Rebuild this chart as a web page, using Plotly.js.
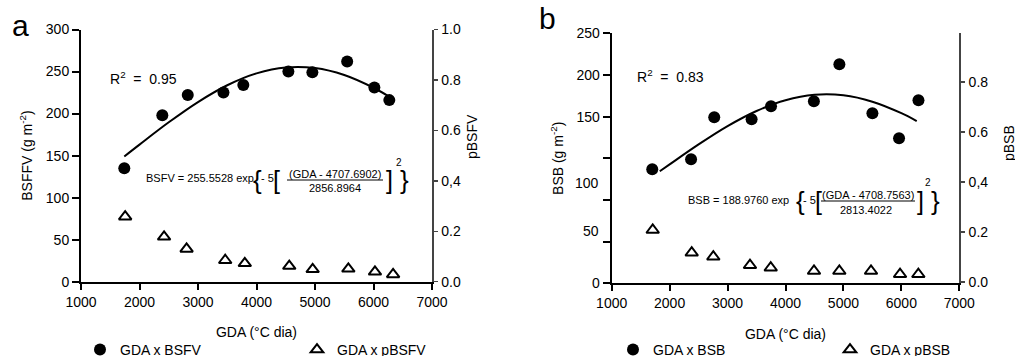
<!DOCTYPE html>
<html><head><meta charset="utf-8">
<script src="https://cdn.plot.ly/plotly-3.0.1.min.js"></script>
<style>html,body{margin:0;padding:0;background:#fff}#chart{width:1015px;height:356px}</style>
</head><body><div id="chart"></div>
<script>
// ---- Panel a data ----
const gdaBSFV  = [1740, 2390, 2825, 3435, 3775, 4545, 4955, 5550, 6015, 6270];
const bsfv     = [135, 198, 222, 225, 234, 250, 249, 262, 231, 216];
const gdaPBSFV = [1755, 2420, 2805, 3465, 3800, 4560, 4960, 5570, 6025, 6335];
const pbsfv    = [0.258, 0.178, 0.130, 0.085, 0.073, 0.062, 0.049, 0.051, 0.039, 0.029];
const curveGdaA = [1740, 2000, 2500, 3000, 3500, 4000, 4500, 5000, 5500, 6000, 6270];
const curveBSFV = [149.0, 163.1, 189.6, 213.7, 233.7, 247.8, 254.9, 254.2, 245.9, 230.7, 220.0];

// ---- Panel b data ----
const gdaBSB  = [1700, 2370, 2770, 3415, 3750, 4490, 4930, 5500, 5960, 6295];
const bsb     = [114, 124, 166, 164, 177, 182, 219, 170, 145, 183];
const gdaPBSB = [1708, 2381, 2754, 3387, 3745, 4492, 4929, 5476, 5977, 6293];
const pbsb    = [0.208, 0.117, 0.101, 0.067, 0.057, 0.044, 0.044, 0.044, 0.031, 0.031];
const curveGdaB = [1830, 2000, 2500, 3000, 3500, 4000, 4500, 5000, 5500, 6000, 6265];
const curveBSB  = [112.0, 118.9, 138.9, 157.2, 172.3, 183.1, 188.5, 188.0, 181.6, 170.1, 162.2];

// ---- ticks ----
const xTicks = [1000, 2000, 3000, 4000, 5000, 6000, 7000];
const yTicksA = [0, 50, 100, 150, 200, 250, 300];
const yTicksB = [0, 41.667, 83.333, 125, 166.667, 208.333, 250];
const yTextB  = ['0', '', '', '', '150', '200', '250'];
const pTicks = [0, 0.2, 0.4, 0.6, 0.8, 1.0];
const pText  = ['0.0', '0.2', '0,4', '0.6', '0.8', '1.0'];

const W = 1015, H = 356;
const px = x => x / W, py = y => 1 - y / H;
const FONT = 'Liberation Sans, Arial, sans-serif';
const BLACK = '#000';

const traces = [
  {type:'scatter', mode:'markers', x:gdaBSFV, y:bsfv, xaxis:'x', yaxis:'y', name:'GDA x BSFV',
   marker:{symbol:'circle', size:12, color:BLACK}, legend:'legend'},
  {type:'scatter', mode:'markers', x:gdaPBSFV, y:pbsfv, xaxis:'x', yaxis:'y2', name:'GDA x pBSFV',
   marker:{symbol:'triangle-up-open', size:11, color:BLACK, line:{width:2}}, legend:'legend'},
  {type:'scatter', mode:'lines', x:curveGdaA, y:curveBSFV, xaxis:'x', yaxis:'y', showlegend:false,
   line:{shape:'spline', color:BLACK, width:2}},
  {type:'scatter', mode:'markers', x:gdaBSB, y:bsb, xaxis:'x2', yaxis:'y3', name:'GDA x BSB',
   marker:{symbol:'circle', size:12, color:BLACK}, legend:'legend2'},
  {type:'scatter', mode:'markers', x:gdaPBSB, y:pbsb, xaxis:'x2', yaxis:'y4', name:'GDA x pBSB',
   marker:{symbol:'triangle-up-open', size:11, color:BLACK, line:{width:2}}, legend:'legend2'},
  {type:'scatter', mode:'lines', x:curveGdaB, y:curveBSB, xaxis:'x2', yaxis:'y3', showlegend:false,
   line:{shape:'spline', color:BLACK, width:2}}
];

const tickFont = {family:FONT, size:14, color:BLACK};
function xAxis(domain, anchor){
  return {domain, anchor, range:[1000,7000], tickvals:xTicks, showgrid:false, zeroline:false,
    showline:true, linecolor:BLACK, linewidth:2, ticks:'outside', ticklen:6, tickwidth:2, tickcolor:BLACK,
    tickfont:tickFont, automargin:false,
    title:{text:'GDA (°C dia)', font:{family:FONT, size:14, color:BLACK}, standoff:19}};
}
function yLeft(domain, anchor, range, tickvals, ticktext, title){
  return {domain, anchor, range, tickvals, ticktext, showgrid:false, zeroline:false,
    showline:true, linecolor:BLACK, linewidth:2, ticks:'outside', ticklen:7, tickwidth:2, tickcolor:BLACK,
    tickfont:tickFont, automargin:false,
    title:{text:title, font:{family:FONT, size:14, color:BLACK}, standoff:10}};
}
function yRight(overlay, anchor, range){
  return {overlaying:overlay, side:'right', anchor, range, tickvals:pTicks, ticktext:pText,
    showgrid:false, zeroline:false, showline:true, linecolor:'#444', linewidth:1.5, automargin:false,
    ticks:'outside', ticklen:4, tickwidth:1.5, tickcolor:'#444', tickfont:tickFont, ticklabelstandoff:1};
}

const eqFont = {family:FONT, size:11, color:BLACK};
function ann(x, y, text, opts){
  return Object.assign({xref:'paper', yref:'paper', x:px(x), y:py(y), text, showarrow:false,
    xanchor:'center', yanchor:'middle', font:{family:FONT, size:14, color:BLACK}}, opts||{});
}
function equation(lhs, xs, ys, num, den){
  return [
    ann(xs.lhs, ys.main, lhs, {xanchor:'left', font:eqFont}),
    ann(xs.brL, ys.br, '{', {font:{family:FONT, size:26, color:BLACK}}),
    ann(xs.m5, ys.main, '- 5', {font:eqFont}),
    ann(xs.sqL, ys.br, '[', {font:{family:FONT, size:25, color:BLACK}}),
    ann(xs.num, ys.num, num, {font:eqFont}),
    ann(xs.den, ys.den, den, {font:eqFont}),
    ann(xs.sqR, ys.br, ']', {font:{family:FONT, size:25, color:BLACK}}),
    ann(xs.pow, ys.pow, '2', {font:{family:FONT, size:10, color:BLACK}}),
    ann(xs.brR, ys.br, '}', {font:{family:FONT, size:26, color:BLACK}})
  ];
}

const annotations = [
  ann(20, 26, 'a', {font:{family:FONT, size:30, color:BLACK}}),
  ann(547, 18, 'b', {font:{family:FONT, size:30, color:BLACK}}),
  ann(108, 77.5, 'R<sup>2</sup>\u00a0 =\u00a0 0.95', {xanchor:'left'}),
  ann(635, 76, 'R<sup>2</sup>\u00a0 =\u00a0 0.83', {xanchor:'left'}),
  ann(472, 137, 'pBSFV', {textangle:-90}),
  ann(1009, 143, 'pBSB', {textangle:-90}),
  {xref:'paper', yref:'y3', x:px(601), y:100, text:'100', showarrow:false, xanchor:'right', yanchor:'middle', font:tickFont},
  {xref:'paper', yref:'y3', x:px(601), y:52, text:'50', showarrow:false, xanchor:'right', yanchor:'middle', font:tickFont},
  ...equation('BSFV = 255.5528 exp',
    {lhs:144, brL:257, m5:267, sqL:276, num:335, den:334.5, sqR:389.5, pow:399, brR:404},
    {main:177.5, br:180, num:173.5, den:188, pow:162}, '(GDA - 4707.6902)', '2856.8964'),
  ...equation('BSB = 188.9760 exp',
    {lhs:686, brL:800, m5:809, sqL:818, num:868, den:866, sqR:920, pow:928, brR:935},
    {main:199.5, br:201, num:194.5, den:209.5, pow:182}, '(GDA - 4708.7563)', '2813.4022')
];

const shapes = [
  {type:'line', xref:'paper', yref:'paper', x0:px(287), x1:px(383), y0:py(180), y1:py(180), line:{color:BLACK, width:1}},
  {type:'line', xref:'paper', yref:'paper', x0:px(821), x1:px(915), y0:py(201), y1:py(201), line:{color:BLACK, width:1}}
];

const legendBase = {orientation:'h', xanchor:'left', yanchor:'top', y:py(334), bgcolor:'rgba(0,0,0,0)',
  font:{family:FONT, size:14, color:BLACK}, entrywidth:172, entrywidthmode:'pixels', itemclick:false};

const layout = {
  width:W, height:H, margin:{l:0, r:0, t:0, b:0, pad:0, autoexpand:false}, paper_bgcolor:'#fff', plot_bgcolor:'#fff',
  font:{family:FONT, size:14, color:BLACK},
  xaxis: xAxis([px(81), px(432)], 'y'),
  yaxis: yLeft([py(281.7), py(29.5)], 'x', [0,300], yTicksA, yTicksA.map(String), 'BSFFV (g m<sup>-2</sup>)'),
  yaxis2: yRight('y', 'x', [0,1]),
  xaxis2: xAxis([px(611.7), px(959.3)], 'y3'),
  yaxis3: yLeft([py(283.3), py(33.3)], 'x2', [0,250], yTicksB, yTextB, 'BSB (g m<sup>-2</sup>)'),
  yaxis4: yRight('y3', 'x2', [-0.0052, 0.9948]),
  legend: Object.assign({}, legendBase, {x:px(80)}),
  legend2: Object.assign({}, legendBase, {x:px(613)}),
  annotations, shapes, showlegend:true
};

Plotly.newPlot('chart', traces, layout, {displayModeBar:false, staticPlot:true});
</script></body></html>
